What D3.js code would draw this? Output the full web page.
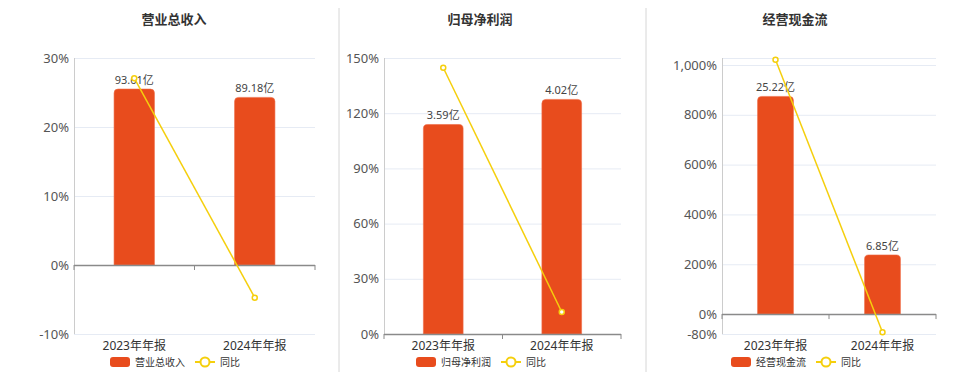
<!DOCTYPE html>
<html>
<head>
<meta charset="utf-8">
<script src="https://cdn.jsdelivr.net/npm/d3@7.9.0/dist/d3.min.js"></script>
<style>
  body { margin: 0; background: #fff; }
  svg { display: block; font-family: "Noto Sans", "Noto Sans CJK SC", sans-serif; }
</style>
</head>
<body>
<svg id="chart" width="960" height="372"></svg>
<script>
// data
const categories = ['2023年年报', '2024年年报'];

const revenue = [93.61, 89.18];      // 亿
const revenueYoY = [27.07, -4.73];   // %
const profit = [3.59, 4.02];
const profitYoY = [144.7, 11.98];
const cashflow = [25.22, 6.85];
const cashflowYoY = [1021, -72.84];

const titles = ['营业总收入', '归母净利润', '经营现金流'];
const pctTicks1 = [-10, 0, 10, 20, 30];
const pctTicks2 = [0, 30, 60, 90, 120, 150];
const pctTicks3 = [-80, 0, 200, 400, 600, 800, 1000];

const barColor = '#e84c1d';
const lineColor = '#f5cf0d';

const svg = d3.select('#chart');

// panel layout
const panels = [
  { title: titles[0], bars: revenue, yoy: revenueYoY, ticks: pctTicks1, pct: [-10, 30], left: 74, right: 315, cx: 174 },
  { title: titles[1], bars: profit, yoy: profitYoY, ticks: pctTicks2, pct: [0, 150], left: 384, right: 621, cx: 480 },
  { title: titles[2], bars: cashflow, yoy: cashflowYoY, ticks: pctTicks3, pct: [-80, 1028], left: 722, right: 936, cx: 795 }
];
const plotTop = 58, plotBottom = 334;

// separators
[339, 646].forEach(x => {
  svg.append('line').attr('x1', x).attr('x2', x).attr('y1', 8).attr('y2', 372)
    .attr('stroke', '#d6d6d6').attr('stroke-width', 1);
});

function barPath(x, y0, y1, w, r) {
  r = Math.min(r, (y0 - y1));
  return `M${x},${y0}V${y1 + r}Q${x},${y1} ${x + r},${y1}H${x + w - r}Q${x + w},${y1} ${x + w},${y1 + r}V${y0}Z`;
}

panels.forEach(p => {
  const g = svg.append('g');

  const x = d3.scaleBand().domain(categories).range([p.left, p.right]);
  const y = d3.scaleLinear().domain(p.pct).range([plotBottom, plotTop]);
  // bar axis (hidden), zero aligned with 0%
  const barMax = d3.max(p.bars) / 0.85;
  const yb = d3.scaleLinear().domain([barMax * p.pct[0] / p.pct[1], barMax]).range([plotBottom, plotTop]);

  // title
  g.append('text').attr('x', p.cx).attr('y', 24).attr('text-anchor', 'middle')
    .attr('font-size', 13).attr('font-weight', 'bold').attr('fill', '#333')
    .attr('font-family', '"Noto Sans CJK SC", sans-serif')
    .text(p.title);

  // grid
  const gridVals = p.ticks.concat(p.ticks.includes(p.pct[1]) ? [] : [p.pct[1]]);
  g.selectAll('.grid').data(gridVals).enter().append('line')
    .attr('x1', p.left).attr('x2', p.right)
    .attr('y1', d => y(d) + 0.5).attr('y2', d => y(d) + 0.5)
    .attr('stroke', '#e6ebf4').attr('stroke-width', 1);

  // y axis
  const yAxis = d3.axisLeft(y).tickValues(p.ticks).tickSize(0).tickPadding(5)
    .tickFormat(d => d3.format(',')(d).replace('−', '-') + '%');
  const ya = g.append('g').attr('transform', `translate(${p.left},0)`).call(yAxis);
  ya.select('.domain').attr('stroke', '#ccc').attr('d', `M0.5,${plotTop}V${plotBottom}`);
  ya.selectAll('text').attr('font-size', 13).attr('fill', '#555')
    .attr('font-family', '"Noto Sans", "Noto Sans CJK SC", sans-serif');

  // bars
  const bw = x.bandwidth() * 0.335;
  g.selectAll('.bar').data(p.bars).enter().append('path')
    .attr('d', (d, i) => barPath(x(categories[i]) + x.bandwidth() / 2 - bw / 2, yb(0), yb(d), bw, 4))
    .attr('fill', barColor).attr('stroke', '#ef6a45').attr('stroke-width', 0.6);

  // bar labels
  g.selectAll('.blab').data(p.bars).enter().append('text')
    .attr('x', (d, i) => x(categories[i]) + x.bandwidth() / 2)
    .attr('y', d => yb(d) - 5)
    .attr('text-anchor', 'middle').attr('font-size', 11).attr('fill', '#444')
    .text(d => d3.format('.2f')(d) + '亿');

  // x axis at zero
  const xa = g.append('g').attr('transform', `translate(0,${y(0)})`);
  xa.append('line').attr('x1', p.left).attr('x2', p.right).attr('y1', 0.5).attr('y2', 0.5)
    .attr('stroke', '#8a8a8a').attr('stroke-width', 1.5);
  const edges = categories.map(c => x(c)).concat([p.right]);
  xa.selectAll('.edge').data(edges).enter().append('line')
    .attr('x1', d => d).attr('x2', d => d).attr('y1', 0).attr('y2', 5)
    .attr('stroke', '#8a8a8a').attr('stroke-width', 1);

  // category labels
  g.selectAll('.xlab').data(categories).enter().append('text')
    .attr('x', d => x(d) + x.bandwidth() / 2).attr('y', 349.5)
    .attr('text-anchor', 'middle').attr('font-size', 12).attr('fill', '#333')
    .text(d => d);

  // yoy line
  const line = d3.line().x((d, i) => x(categories[i]) + x.bandwidth() / 2).y(d => y(d));
  g.append('path').datum(p.yoy).attr('d', line)
    .attr('fill', 'none').attr('stroke', lineColor).attr('stroke-width', 1.5);
  g.selectAll('.pt').data(p.yoy).enter().append('circle')
    .attr('cx', (d, i) => x(categories[i]) + x.bandwidth() / 2).attr('cy', d => y(d))
    .attr('r', 2.5).attr('fill', '#fff').attr('stroke', lineColor).attr('stroke-width', 1.5);

  // legend
  const lg = g.append('g').attr('transform', `translate(${p.cx - 64},362)`);
  lg.append('rect').attr('x', 0).attr('y', -5).attr('width', 20).attr('height', 10).attr('rx', 3)
    .attr('fill', barColor);
  const t1 = lg.append('text').attr('x', 25).attr('y', 3.5).attr('font-size', 10).attr('fill', '#333')
    .attr('font-family', '"Noto Sans CJK SC", sans-serif').text(p.title);
  const lx = 25 + t1.node().getComputedTextLength() + 10;
  lg.append('line').attr('x1', lx).attr('x2', lx + 20).attr('y1', 0).attr('y2', 0)
    .attr('stroke', lineColor).attr('stroke-width', 2);
  lg.append('circle').attr('cx', lx + 10).attr('cy', 0).attr('r', 4.5)
    .attr('fill', '#fff').attr('stroke', lineColor).attr('stroke-width', 2);
  lg.append('text').attr('x', lx + 25).attr('y', 3.5).attr('font-size', 10).attr('fill', '#333')
    .attr('font-family', '"Noto Sans CJK SC", sans-serif').text('同比');
});
</script>
</body>
</html>
